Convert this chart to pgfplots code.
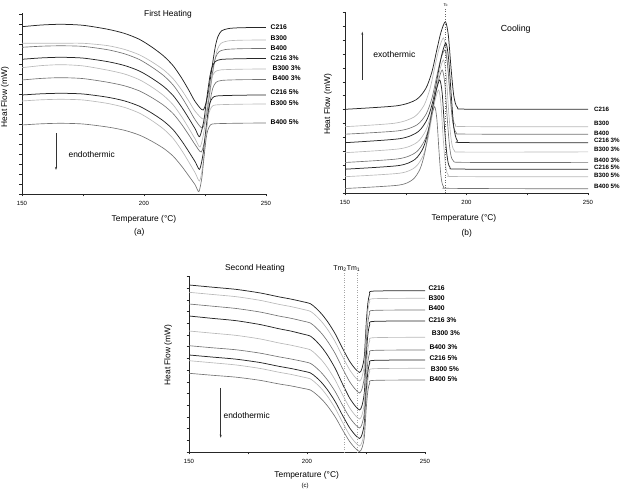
\documentclass[border=0pt]{standalone}
\usepackage{pgfplots}
\pgfplotsset{compat=1.18}
\usepackage{fontspec}
\setmainfont{Liberation Sans}
\usetikzlibrary{arrows.meta}
\newcommand{\lab}{\fontsize{6.8}{7}\selectfont\bfseries}
\newcommand{\labb}{\fontsize{6.2}{7}\selectfont\bfseries}
\newcommand{\axt}{\fontsize{8.4}{9}\selectfont}
\newcommand{\ttl}{\fontsize{8.4}{9}\selectfont}
\pgfplotsset{
 panel/.style={scale only axis, axis lines=left, axis line style={-, black!85, line width=0.5pt},
   tick align=outside, xmin=150, xmax=250, xtick={150,200,250}, minor xtick={175,225},
   yticklabels={}, major tick length=2.5pt, minor tick length=2.5pt,
   every tick/.style={black!85, line width=0.4pt},
   xticklabel style={font=\fontsize{6}{6}\selectfont, yshift=-1.5pt},
   /pgf/number format/assume math mode=true, clip mode=individual},
 cd/.style={smooth, tension=0.45, line width=0.75pt, black!85},
 cl/.style={smooth, tension=0.45, line width=0.65pt, black!28},
 cm/.style={smooth, tension=0.45, line width=0.65pt, black!55},
}
\begin{document}
\begin{tikzpicture}[x=1pt,y=1pt]
\useasboundingbox (0,0) rectangle (625,489);
% ---------------- (a) First heating
\begin{axis}[panel, at={(22pt,295pt)}, anchor=south west, width=244pt, height=181pt,
  ymin=-194, ymax=-13, ytick={-194,-184,...,-14}]
\addplot[cd] coordinates {(150,-26.7) (158,-25.0) (166,-24.3) (175,-25.3) (185,-29.2) (192,-33.4) (198,-39.2) (203,-46.7) (208,-55.9) (212,-65.9) (215.5,-78.3) (218.5,-90.8) (221,-101.7) (224.3,-110) (226.3,-93.5) (227.3,-77.0) (228.3,-60.5) (229.3,-45.7) (230.3,-36.6) (231.8,-30.8) (234.8,-28.5) (240,-27.7) (250,-27.5)};
\addplot[cl] coordinates {(150,-43.3) (158,-43.3) (166,-43.3) (175,-43.3) (185,-45.6) (192,-49.4) (198,-54.7) (203,-61.5) (208,-69.8) (212,-78.9) (215.5,-90.2) (218.5,-101.6) (221,-111.4) (224.5,-119) (226.4,-103.2) (227.35,-87.4) (228.3,-71.6) (229.25,-57.4) (230.2,-48.7) (231.6,-43.2) (234.5,-40.9) (240,-40.2) (250,-40)};
\addplot[cm] coordinates {(150,-47.3) (158,-46.2) (166,-45.8) (175,-46.4) (185,-49.7) (192,-53.8) (198,-59.4) (203,-66.7) (208,-75.5) (212,-85.2) (215.5,-97.3) (218.5,-109.4) (221,-119.9) (224,-128) (225.8,-112.1) (226.7,-96.2) (227.6,-80.3) (228.5,-66.0) (229.4,-57.2) (230.75,-51.7) (233.45,-49.5) (240,-48.7) (250,-48.5)};
\addplot[cd] coordinates {(150,-59.3) (158,-57.9) (166,-57.3) (175,-58.1) (185,-61.6) (192,-65.5) (198,-70.9) (203,-77.9) (208,-86.4) (212,-95.7) (215.5,-107.3) (218.5,-118.9) (221,-129.0) (222.8,-136.7) (224.5,-121.1) (225.35,-105.4) (226.2,-89.8) (227.05,-75.7) (227.9,-67.1) (229.2,-61.6) (231.7,-59.4) (240,-58.7) (250,-58.5)};
\addplot[cl] coordinates {(150,-67.7) (158,-65.6) (166,-64.7) (175,-65.9) (185,-70.1) (192,-74.0) (198,-79.6) (203,-86.7) (208,-95.5) (212,-105.0) (215.5,-116.9) (218.5,-128.8) (221,-139.1) (223,-147) (224.6,-131.4) (225.4,-115.8) (226.2,-100.2) (227,-86.2) (227.8,-77.6) (229,-72.1) (231.4,-69.9) (240,-69.2) (250,-69)};
\addplot[cm] coordinates {(150,-80) (158,-78.4) (166,-77.7) (175,-78.6) (185,-82.2) (192,-85.8) (198,-90.8) (203,-97.3) (208,-105.2) (212,-113.8) (215.5,-124.6) (218.5,-135.4) (221,-144.8) (223.5,-152) (225.1,-137.5) (225.9,-123.0) (226.7,-108.5) (227.5,-95.5) (228.3,-87.5) (229.5,-82.4) (231.9,-80.4) (240,-79.7) (250,-79.5)};
\addplot[cd] coordinates {(150,-95) (158,-93.8) (166,-93.3) (175,-94.0) (185,-97.2) (192,-100.9) (198,-106.1) (203,-112.8) (208,-121.0) (212,-129.9) (215.5,-141.1) (218.5,-152.2) (221,-161.9) (222.8,-169.3) (224.2,-154.4) (224.9,-139.6) (225.6,-124.7) (226.3,-111.3) (227,-103.2) (228.05,-98.0) (230.15,-95.9) (240,-95.2) (250,-95)};
\addplot[cl] coordinates {(150,-101) (158,-99.8) (166,-99.3) (175,-100.0) (185,-103.4) (192,-107.4) (198,-113) (203,-120.2) (208,-129) (212,-138.6) (215.5,-150.6) (218.5,-162.6) (221,-173) (222.8,-181) (224.1,-165.6) (224.75,-150.2) (225.4,-134.8) (226.05,-120.9) (226.7,-112.5) (227.7,-107.1) (229.6,-104.9) (240,-104.2) (250,-104)};
\addplot[cm] coordinates {(150,-125) (158,-123.8) (166,-123.3) (175,-124.0) (185,-127.0) (192,-130.3) (198,-135) (203,-141) (208,-148.3) (212,-156.3) (215.5,-166.4) (218.5,-176.4) (221,-185) (222.5,-191.7) (223.7,-178) (224.3,-164.2) (224.9,-150.5) (225.5,-138.1) (226.1,-130.6) (227,-125.7) (228.8,-123.8) (240,-123.2) (250,-123)};
\end{axis}
% ---------------- (b) Cooling
\begin{axis}[panel, at={(345pt,296pt)}, anchor=south west, width=243pt, height=181pt,
  ymin=-193, ymax=-12, ytick={-193,-179.1,...,-12}]
\addplot[cd] coordinates {(150,-109.3) (171.3,-105.8) (179.3,-99.7) (183.3,-88.3) (185.8,-71.6) (187.8,-49.7) (189.5,-32.2) (191.3,-21.7) (192.5,-34.8) (193.7,-69.9) (194.8,-96.2) (196.3,-107.5) (201,-109.2) (250,-109.3)};
\addplot[cl] coordinates {(150,-126.7) (170.5,-123.2) (178.5,-116.9) (182.5,-105.4) (185,-88.6) (187,-66.4) (188.7,-48.6) (190.5,-38) (191.7,-51.3) (192.9,-86.8) (194,-113.4) (195.5,-124.9) (200,-126.6) (250,-126.7)};
\addplot[cm] coordinates {(150,-134.2) (172,-130.8) (179.6,-124.9) (183.4,-114.0) (185.8,-98.0) (187.7,-76.9) (189.3,-60.1) (191,-50) (192.1,-62.6) (193.3,-96.3) (194.3,-121.6) (195.75,-132.5) (200,-134.1) (250,-134.2)};
\addplot[cd] coordinates {(150,-142.7) (172.5,-138.7) (180.1,-131.7) (183.9,-118.8) (186.3,-99.8) (188.2,-74.9) (189.8,-55.0) (191.5,-43) (192.6,-58.0) (193.8,-97.8) (194.8,-127.7) (196.25,-140.7) (200,-142.6) (250,-142.7)};
\addplot[cl] coordinates {(150,-152.7) (172.5,-148.8) (179.7,-142.3) (183.3,-130.3) (185.55,-112.7) (187.35,-89.6) (188.9,-71.1) (190.5,-60) (191.6,-73.9) (192.65,-110.9) (193.65,-138.6) (195,-150.6) (200,-152.1) (250,-151.9)};
\addplot[cm] coordinates {(150,-162.5) (172,-158.8) (179.2,-152.3) (182.8,-140.3) (185.05,-122.7) (186.85,-99.6) (188.4,-81.1) (190,-70) (191.1,-83.9) (192.15,-120.9) (193.15,-148.6) (194.5,-160.6) (200,-162.4) (250,-162.4)};
\addplot[cd] coordinates {(150,-169.2) (172,-165.6) (178.8,-159.4) (182.2,-147.8) (184.3,-130.8) (186,-108.5) (187.5,-90.7) (189,-80) (190,-93.4) (191,-129.1) (192,-155.8) (193.25,-167.4) (198,-169.1) (250,-169.2)};
\addplot[cl] coordinates {(150,-176.7) (172.5,-173.2) (178.9,-167.2) (182.1,-155.9) (184.1,-139.4) (185.7,-117.7) (187.05,-100.4) (188.5,-90) (189.45,-103.0) (190.4,-137.7) (191.3,-163.7) (192.5,-175.0) (197,-176.6) (250,-176.7)};
\addplot[cm] coordinates {(150,-188.5) (171.9,-185.2) (177.9,-179.5) (180.9,-168.9) (182.8,-153.3) (184.3,-132.9) (185.55,-116.5) (186.9,-106.7) (187.8,-119.0) (188.7,-151.7) (189.5,-176.2) (190.65,-186.9) (195,-188.4) (250,-188.8)};
\draw[dotted, black!60, line width=0.55pt] (axis cs:191.3,-193) -- (axis cs:191.3,-9);
\end{axis}
% ---------------- (c) Second heating
\begin{axis}[panel, at={(189pt,37pt)}, anchor=south west, width=236pt, height=176pt,
  ymin=-452, ymax=-276, ytick={-452,-440.3,...,-276}]
\addplot[cd] coordinates {(150,-285) (160,-287.2) (170,-289.4) (180,-292.9) (188,-296.8) (193,-299.0) (198,-301.6) (201.5,-303.8) (204,-308.6) (206.5,-314.8) (209,-322.6) (212,-334.0) (215,-348.0) (218,-361.1) (220.5,-369.0) (222.3,-372.5) (223.3,-368.4) (224.3,-356.1) (225.1,-323.4) (225.8,-303.0) (226.6,-294.0) (228.3,-291.1) (250,-290.7)};
\addplot[cl] coordinates {(150,-292.3) (160,-294.5) (170,-296.7) (180,-300.3) (188,-304.3) (193,-306.5) (198,-309.2) (201.5,-311.4) (204,-316.2) (206.5,-322.5) (209,-330.4) (212,-342.0) (215,-356.2) (218,-369.5) (220.5,-377.5) (222.3,-381) (223.3,-376.9) (224.3,-364.5) (225.1,-331.4) (225.8,-310.7) (226.6,-301.6) (228.3,-298.7) (250,-298.3)};
\addplot[cm] coordinates {(150,-304) (160,-306.2) (170,-308.5) (180,-312.0) (188,-316.0) (193,-318.2) (198,-320.9) (201.5,-323.1) (204,-328.0) (206.5,-334.3) (209,-342.3) (212,-353.8) (215,-368.1) (218,-381.4) (220.5,-389.4) (222.3,-393) (223.3,-388.9) (224.3,-376.4) (225.1,-343.2) (225.8,-322.5) (226.6,-313.3) (228.3,-310.4) (250,-310)};
\addplot[cd] coordinates {(150,-316) (160,-318.4) (170,-320.7) (180,-324.5) (188,-328.7) (193,-331.0) (198,-333.9) (201.5,-336.2) (204,-341.4) (206.5,-348.0) (209,-356.4) (212,-368.6) (215,-383.7) (218,-397.8) (220.5,-406.2) (222.3,-410) (223.3,-405.6) (224.3,-392.2) (225.1,-356.6) (225.8,-334.4) (226.6,-324.6) (228.3,-321.4) (250,-321)};
\addplot[cl] coordinates {(150,-331) (160,-333.2) (170,-335.4) (180,-338.9) (188,-342.9) (193,-345.1) (198,-347.7) (201.5,-349.9) (204,-354.8) (206.5,-360.9) (209,-368.8) (212,-380.3) (215,-394.4) (218,-407.6) (220.5,-415.5) (222.3,-419) (223.3,-414.9) (224.3,-402.7) (225.1,-370.0) (225.8,-349.6) (226.6,-340.6) (228.3,-337.7) (250,-337.3)};
\addplot[cm] coordinates {(150,-345.7) (160,-347.8) (170,-349.8) (180,-353.1) (188,-356.8) (193,-358.9) (198,-361.3) (201.5,-363.4) (204,-367.9) (206.5,-373.7) (209,-381.1) (212,-391.8) (215,-405.0) (218,-417.3) (220.5,-424.7) (222.3,-428) (223.3,-424.1) (224.3,-412.4) (225.1,-381.2) (225.8,-361.7) (226.6,-353.1) (228.3,-350.4) (250,-350)};
\addplot[cd] coordinates {(150,-355) (160,-357.1) (170,-359.2) (180,-362.5) (188,-366.3) (193,-368.4) (198,-370.9) (201.5,-373.0) (204,-377.5) (206.5,-383.4) (209,-390.9) (212,-401.8) (215,-415.1) (218,-427.6) (220.5,-435.2) (222.3,-438.5) (223.3,-434.6) (224.3,-422.8) (225.1,-391.4) (225.8,-371.8) (226.6,-363.1) (228.3,-360.4) (250,-360)};
\addplot[cl] coordinates {(150,-360.7) (160,-362.8) (170,-365.0) (180,-368.4) (188,-372.2) (193,-374.3) (198,-376.9) (201.5,-379.0) (204,-383.7) (206.5,-389.7) (209,-397.4) (212,-408.5) (215,-422.1) (218,-434.9) (220.5,-442.6) (222.3,-446) (223.3,-442.1) (224.3,-430.5) (225.1,-399.4) (225.8,-380.0) (226.6,-371.4) (228.3,-368.7) (250,-368.3)};
\addplot[cm] coordinates {(150,-373.3) (160,-375.3) (170,-377.2) (180,-380.3) (188,-383.9) (193,-385.8) (198,-388.2) (201.5,-390.1) (204,-394.4) (206.5,-399.9) (209,-406.9) (212,-417.1) (215,-429.6) (218,-441.3) (220.5,-448.4) (222.3,-451.5) (223.3,-447.9) (224.3,-437.2) (225.1,-408.6) (225.8,-390.7) (226.6,-382.9) (228.3,-380.4) (250,-380)};
\draw[dotted, black!35, line width=0.45pt] (axis cs:215.8,-452) -- (axis cs:215.8,-272);
\draw[dotted, black!35, line width=0.45pt] (axis cs:221.1,-452) -- (axis cs:221.1,-272);
\end{axis}
% ---------------- texts (a)
\node[rotate=90, font=\axt] at (5,392) {Heat Flow (mW)};
\node[font=\ttl] at (168,475) {First Heating};
\node[font=\ttl] at (91.7,334) {endothermic};
\draw[-{Stealth[length=3pt,width=2pt]}, line width=0.5pt, black!80] (56,355.7) -- (56,319);
\node[font=\axt] at (144,270) {Temperature (°C)};
\node[font=\axt] at (139.3,257) {(a)};
\begin{scope}[every node/.style={anchor=west, inner sep=0pt, font=\lab}]
\node at (270.5,461.7) {C216};
\node at (270.5,451.3) {B300};
\node at (270.5,440.7) {B400};
\node at (270.5,431.3) {C216 3\%};
\node at (272.5,421.3) {B300 3\%};
\node at (272.5,410.7) {B400 3\%};
\node at (270.5,397.3) {C216 5\%};
\node at (270.5,386.3) {B300 5\%};
\node at (270.5,366.7) {B400 5\%};
% (c)
\node at (428.3,200.7) {C216};
\node at (428.3,191.3) {B300};
\node at (428.3,180.7) {B400};
\node at (428.3,169) {C216 3\%};
\node at (431.7,155.7) {B300 3\%};
\node at (429.3,142.3) {B400 3\%};
\node at (429.3,130.7) {C216 5\%};
\node at (430.7,120) {B300 5\%};
\node at (429.3,109.7) {B400 5\%};
\end{scope}
\begin{scope}[every node/.style={anchor=west, inner sep=0pt, font=\labb}]
% (b)
\node at (594,379.7) {C216};
\node at (594,365.7) {B300};
\node at (594,355.7) {B400};
\node at (594,349) {C216 3\%};
\node at (594,340) {B300 3\%};
\node at (594,329) {B400 3\%};
\node at (594,321.3) {C216 5\%};
\node at (594,314) {B300 5\%};
\node at (594,302.3) {B400 5\%};
\end{scope}
% texts (b)
\node[rotate=90, font=\axt] at (328,384.5) {Heat Flow (mW)};
\node[font=\fontsize{8.8}{9}\selectfont] at (515.7,459.7) {Cooling};
\node[font=\fontsize{8.6}{9}\selectfont] at (394.3,435) {exothermic};
\draw[-{Stealth[length=3pt,width=2pt]}, line width=0.5pt, black!80] (362.3,409) -- (362.3,457.3);
\node[font=\fontsize{4}{4}\selectfont, inner sep=0pt] at (445.7,484) {Tc};
\node[font=\axt] at (464,270.7) {Temperature (°C)};
\node[font=\axt] at (466.7,255.7) {(b)};
% texts (c)
\node[rotate=90, font=\axt] at (168.3,134) {Heat Flow (mW)};
\node[font=\ttl] at (255,220.7) {Second Heating};
\node[font=\fontsize{7}{7}\selectfont, inner sep=0pt] at (340,220.7) {Tm\textsubscript{2}};
\node[font=\fontsize{7}{7}\selectfont, inner sep=0pt] at (353.5,220.7) {Tm\textsubscript{1}};
\node[font=\ttl] at (246.7,73.3) {endothermic};
\draw[-{Stealth[length=3pt,width=2pt]}, line width=0.5pt, black!80] (220.7,101) -- (220.7,51.3);
\node[font=\axt] at (306.7,14) {Temperature (°C)};
\node[font=\fontsize{6}{6}\selectfont, inner sep=0pt] at (305,3.5) {(c)};
\end{tikzpicture}
\end{document}
